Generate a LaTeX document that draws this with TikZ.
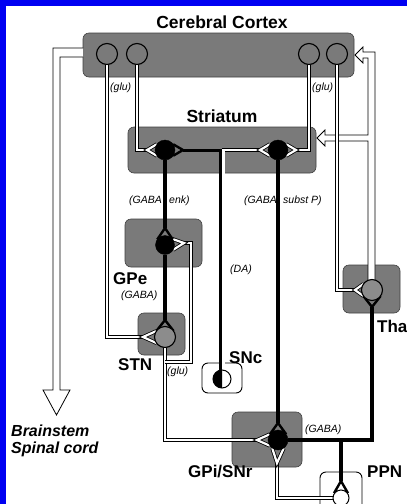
\documentclass[tikz,border=0pt]{standalone}
\usepackage{fontspec}
\setmainfont{Liberation Sans}
\usetikzlibrary{calc}
\pgfdeclarelayer{bg}
\pgfdeclarelayer{mid}
\pgfsetlayers{bg,mid,main}
\begin{document}
\begin{tikzpicture}[x=1pt,y=-1pt,
  region/.style={draw=black!75, fill=black!52, rounded corners=6pt, line width=0.6pt},
  wbox/.style={draw=black, fill=white, rounded corners=6pt, line width=0.9pt},
  gcell/.style={circle, draw, fill=black!45, line width=1.1pt, minimum size=21pt, inner sep=0pt, outer sep=0pt},
  bcell/.style={circle, draw, fill=black, minimum size=20pt, inner sep=0pt, outer sep=0pt},
  glu/.style={draw=black, line width=0.8pt, double=white, double distance=2.2pt},
  gaba/.style={draw=black, line width=4pt},
  garm/.style={draw=black, line width=2.4pt},
  lbl/.style={font=\fontsize{17}{17}\selectfont\bfseries, inner sep=0pt, anchor=west},
  sm/.style={font=\fontsize{10.5}{10.5}\selectfont\itshape, inner sep=0pt, anchor=west},
  hollow/.style={draw=black, line width=0.8pt, line join=miter}
]
\useasboundingbox (0,0) rectangle (407,504);
\begin{pgfonlayer}{bg}
\fill[blue!95!black] (0,0) rectangle (407,504);
\fill[white] (6,6) rectangle (410,510);
% regions
\node[region, minimum width=271pt, minimum height=44pt] (cortexbox) at (218.5,55) {};
\node[region, minimum width=188pt, minimum height=46pt] (stribox) at (222,150) {};
\node[region, minimum width=77pt, minimum height=48pt] (gpebox) at (163.5,243) {};
\node[region, minimum width=47pt, minimum height=42pt] (stnbox) at (161.5,334) {};
\node[region, minimum width=57pt, minimum height=48pt] (thalbox) at (371.5,289) {};
\node[region, minimum width=70pt, minimum height=55pt] (gpibox) at (267,439.5) {};
\node[wbox, minimum width=40pt, minimum height=30pt] (sncbox) at (222,378) {};
\node[wbox, minimum width=42pt, minimum height=48pt] (ppnbox) at (341,496) {};
\end{pgfonlayer}

% cells
\node[gcell, fill=black!52] (c1) at (107,54) {};
\node[gcell, fill=black!52] (c2) at (137,54) {};
\node[gcell, fill=black!52] (c3) at (309,54) {};
\node[gcell, fill=black!52] (c4) at (337,54) {};
\node[bcell] (str1) at (165,150) {};
\node[bcell] (str2) at (278,150) {};
\node[bcell, minimum size=19pt] (gpe) at (165,245) {};
\node[gcell] (stn) at (165,337) {};
\node[bcell] (gpi) at (278,440) {};
\node[gcell] (thal) at (372,290) {};
\node[circle, draw, fill=white, line width=1pt, minimum size=18pt, inner sep=0pt] (snc) at (222,379) {};
\fill[black] ($(snc.center)+(0,-9)$) arc[start angle=90, end angle=270, radius=9pt] -- cycle;
\node[circle, draw, fill=white, line width=1pt, minimum size=16pt, inner sep=0pt] (ppn) at (341,498) {};

% labels
\node[font=\fontsize{17.5}{17.5}\selectfont\bfseries, inner sep=0pt] (tcortex) at (222,22) {Cerebral Cortex};
\node[font=\fontsize{17.5}{17.5}\selectfont\bfseries, inner sep=0pt] (tstr) at (222,116) {Striatum};
\node[sm] (g1) at (110,88) {(glu)};
\node[sm] (g2) at (312,88) {(glu)};
\node[sm] (ga1) at (129,201) {(GABA};
\node[sm] (ga1b) at (169,201) {enk)};
\node[sm] (ga2) at (244,201) {(GABA};
\node[sm] (ga2b) at (283,201) {subst P)};
\node[lbl] (tgpe) at (113,279) {GPe};
\node[sm] (ga3) at (121,296) {(GABA)};
\node[sm] (tda) at (230,270) {(DA)};
\node[lbl] (tstn) at (118,365) {STN};
\node[sm] (g3) at (167,372) {(glu)};
\node[lbl] (tsnc) at (229,358) {SNc};
\node[lbl] (ttha) at (377,326) {Tha};
\node[lbl, font=\fontsize{16}{16}\selectfont\bfseries\itshape] (tbs) at (11,431) {Brainstem};
\node[lbl, font=\fontsize{16}{16}\selectfont\bfseries\itshape] (tsc) at (11,449) {Spinal cord};
\node[sm] (ga4) at (305,430) {(GABA)};
\node[lbl] (tgpi) at (188,472) {GPi/SNr};
\node[lbl] (tppn) at (367,472) {PPN};

% apex coordinates
\coordinate (aStn) at (143,337);
\coordinate (aS1) at (147,150);
\coordinate (aS2) at (296,150);
\coordinate (aTh) at (355,290);
\coordinate (aGpi) at (257,440);
\coordinate (aGpe) at (184,243);
\coordinate (aGpiB) at (277,463);
\coordinate (aDA1) at (183,150);
\coordinate (aDA2) at (260,150);
\coordinate (yGpe) at (165,228);
\coordinate (yStn) at (165,320);
\coordinate (yGpi) at (278,423);
\coordinate (yTh) at (372,307);
\coordinate (yPpn) at (341,481);
\coordinate (kGpi) at (372,440);
\coordinate (kPpn) at (341,440);
\coordinate (kStn) at (165,362);

\begin{pgfonlayer}{mid}
% hollow arrows
\filldraw[hollow, fill=white] (83,48) -- (53,48) -- (53,390) -- (43,390) -- (56.5,415) -- (70,390) -- (60,390) -- (60,57) -- (83,57);
\fill[white] (368,282) -- (368,141) -- (325,141) -- (325,146) -- (317,138) -- (325,130) -- (325,135) -- (368,135) -- (368,58) -- (363,58) -- (363,63) -- (355,55) -- (363,47) -- (363,52) -- (375,52) -- (375,282) -- cycle;
\draw[hollow] (368,282) -- (368,141) -- (325,141) -- (325,146) -- (317,138) -- (325,130) -- (325,135) -- (368,135) -- (368,58) -- (363,58) -- (363,63) -- (355,55) -- (363,47) -- (363,52) -- (375,52) -- (375,282);

% glutamatergic (double) lines
\draw[glu] (c1.south) |- (aStn);
\draw[glu] (stn.145) -- (aStn) -- (stn.215);
\draw[glu] (c2.south) |- (aS1);
\draw[glu] (str1.145) -- (aS1) -- (str1.215);
\draw[glu] (c3.south) |- (aS2);
\draw[glu] (str2.35) -- (aS2) -- (str2.-35);
\draw[glu] (c4.south) |- (aTh);
\draw[glu] (thal.145) -- (aTh) -- (thal.215);
\draw[glu] (stn.south) |- (aGpi);
\draw[glu] (gpi.145) -- (aGpi) -- (gpi.215);
\draw[glu] (kStn) -| (191,243) -- (aGpe);
\draw[glu] (gpe.40) -- (aGpe) -- (gpe.-30);
\draw[glu] (ppn.west) -| (aGpiB);
\draw[glu] (gpi.235) -- (aGpiB) -- (gpi.305);

% dopaminergic line
\draw[glu] (223.5,370.5) |- (aDA2);
\draw[glu] (str2.145) -- (aDA2) -- (str2.215);
\draw[gaba, line width=3pt] (220.5,371) -- (220.5,150) -- (aDA1);
\draw[garm] (str1.35) -- (aDA1) -- (str1.-35);

% GABAergic lines
\draw[gaba] (str1.south) -- (yGpe);
\draw[garm] (gpe.145) -- (yGpe) -- (gpe.35);
\draw[gaba] (gpe.south) -- (yStn);
\draw[garm] (stn.145) -- (yStn) -- (stn.35);
\draw[gaba] (str2.south) -- (yGpi);
\draw[garm] (gpi.145) -- (yGpi) -- (gpi.35);
\draw[gaba] (gpi.east) -- (kGpi) -- (yTh);
\draw[garm] (thal.215) -- (yTh) -- (thal.325);
\draw[gaba] (kPpn) -- (yPpn);
\draw[garm] (ppn.145) -- (yPpn) -- (ppn.35);
\end{pgfonlayer}
\end{tikzpicture}
\end{document}
